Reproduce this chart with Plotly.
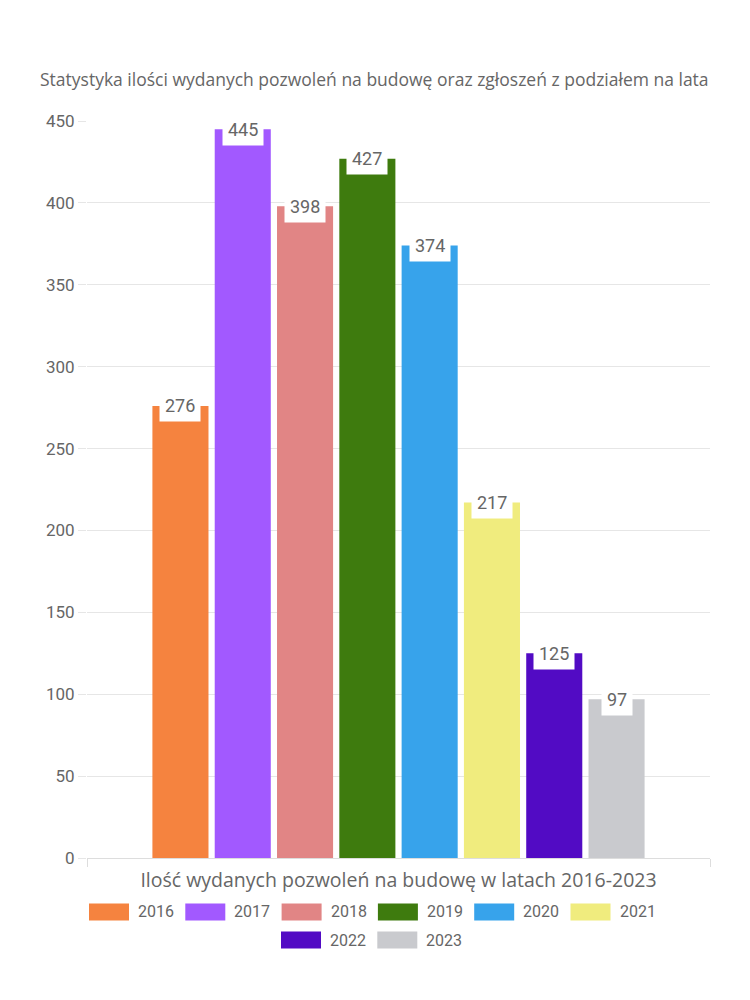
import plotly.graph_objects as go

title = "Statystyka ilości wydanych pozwoleń na budowę oraz zgłoszeń z podziałem na lata"
category = "Ilość wydanych pozwoleń na budowę w latach 2016-2023"
years = ["2016", "2017", "2018", "2019", "2020", "2021", "2022", "2023"]
values = [276, 445, 398, 427, 374, 217, 125, 97]
colors = ["#F5833F", "#A259FF", "#E18585", "#3E7B0E", "#37A3EB", "#F0EC7E", "#520BC4", "#C9CACE"]

W, H = 750, 1000
ML, MR, MT, MB = 87, 40, 121, 142
PW, PH = W - ML - MR, H - MT - MB
BARGAP, GROUPGAP = 0.2, 0.1
TXT = "#666666"
FONT = "Open Sans"
NUMFONT = "Roboto"

def px_x(px):
    return (px - ML) / PW

def px_y(py):
    return (H - MB - py) / PH

fig = go.Figure()
n = len(years)
slot = (1 - BARGAP) / n
for i, (yr, v, c) in enumerate(zip(years, values, colors)):
    fig.add_trace(go.Bar(name=yr, x=[category], y=[v], marker=dict(color=c, line=dict(width=0)),
                         showlegend=False, hoverinfo="y+name"))
    xc = -(1 - BARGAP) / 2 + slot * (i + 0.5)
    fig.add_annotation(x=xc, y=v, xref="x", yref="y", text=str(v), showarrow=False,
                       bgcolor="white", borderpad=5, yanchor="middle", yshift=0,
                       font=dict(family=NUMFONT, size=18, color=TXT))

# manual legend
row1 = years[:6]
row2 = years[6:]
step = 96.3
sw_w, sw_h = 40, 17
shapes = []
def legend_row(items, start_px, cy):
    for j, yr in enumerate(items):
        idx = years.index(yr)
        x0 = start_px + j * step
        shapes.append(dict(type="rect", xref="paper", yref="paper",
                           x0=px_x(x0), x1=px_x(x0 + sw_w),
                           y0=px_y(cy + sw_h / 2), y1=px_y(cy - sw_h / 2),
                           fillcolor=colors[idx], line=dict(width=0)))
        fig.add_annotation(x=px_x(x0 + sw_w + 7), y=px_y(cy), xref="paper", yref="paper",
                           text=yr, showarrow=False, xanchor="left", yanchor="middle",
                           font=dict(family=NUMFONT, size=16, color=TXT))
legend_row(row1, 89, 912)
legend_row(row2, 281, 940)

fig.update_layout(
    width=W, height=H, barmode="group", bargap=BARGAP, bargroupgap=GROUPGAP,
    margin=dict(l=ML, r=MR, t=MT, b=MB),
    plot_bgcolor="white", paper_bgcolor="white",
    shapes=shapes,
    title=dict(text=title, x=40 / W, xanchor="left", y=1 - 80 / H, yanchor="middle",
               font=dict(family=FONT, size=17.5, color=TXT)),
    font=dict(family=FONT, color=TXT),
)
fig.update_yaxes(range=[0, 450], dtick=50, showgrid=True, gridcolor="#E6E6E6", gridwidth=1,
                 zeroline=False, showline=False, ticks="outside", ticklen=8, tickcolor="#E6E6E6",
                 tickfont=dict(family=NUMFONT, size=17, color=TXT))
fig.update_xaxes(tickson="boundaries", ticks="outside", ticklen=8, tickcolor="#DDDDDD",
                 showgrid=True, gridcolor="#E6E6E6", showline=True, linecolor="#DDDDDD",
                 ticklabelstandoff=5,
                 tickfont=dict(family=FONT, size=19.5, color=TXT))

fig.write_html("out.html")
